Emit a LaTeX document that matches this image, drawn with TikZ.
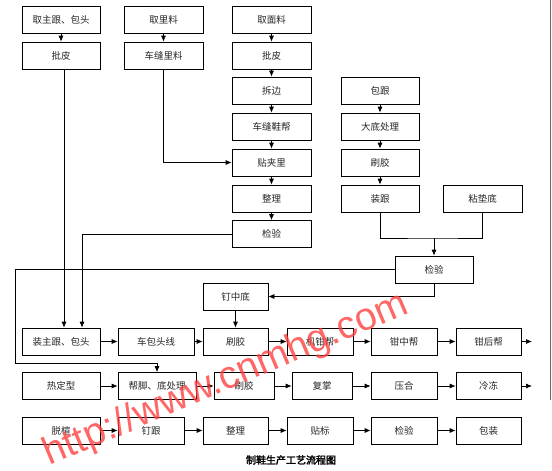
\documentclass[tikz,border=0pt]{standalone}
\usepackage{fontspec}
\setmainfont{Noto Sans CJK SC}[AutoFakeBold=2.5]
\newfontfamily\wmfont{Liberation Sans}
\usetikzlibrary{arrows.meta}
\begin{document}
\begin{tikzpicture}[x=1pt, y=-1pt,
		box/.style={draw, rectangle, minimum height=27pt, inner sep=0pt, font=\fontsize{9.5}{10}\selectfont, text=black!85},
		arr/.style={-{Latex[length=6pt,width=5pt]}},
		line width=0.7pt]
			\useasboundingbox (0,0) rectangle (552,471);
			\draw[black!60, line width=1pt] (550.5,0) -- (550.5,400);
			% upper part
			\node[box, minimum width=78pt] (qzg) at (61,19.5) {取主跟、包头};
			\node[box, minimum width=78pt] (pp1) at (61,55.5) {批皮};
			\node[box, minimum width=79pt] (qll) at (163.5,19.5) {取里料};
			\node[box, minimum width=79pt] (cfll) at (163.5,55.5) {车缝里料};
			\node[box, minimum width=79pt] (qml) at (271.5,19.5) {取面料};
			\node[box, minimum width=79pt] (pp2) at (271.5,55.5) {批皮};
			\node[box, minimum width=79pt] (cb) at (271.5,90.5) {拆边};
			\node[box, minimum width=79pt] (cfxb) at (271.5,126.5) {车缝鞋帮};
			\node[box, minimum width=79pt] (tjl) at (271.5,162.5) {贴夹里};
			\node[box, minimum width=79pt] (zl1) at (271.5,198.5) {整理};
			\node[box, minimum width=79pt] (jy1) at (271.5,234) {检验};
			\node[box, minimum width=78pt] (bg) at (380,90.5) {包跟};
			\node[box, minimum width=78pt] (ddcl) at (380,126.5) {大底处理};
			\node[box, minimum width=78pt] (sj1) at (380,162.5) {刷胶};
			\node[box, minimum width=78pt] (zg) at (380,198.5) {装跟};
			\node[box, minimum width=79pt] (ndd) at (482.5,198.5) {粘垫底};
			\node[box, minimum width=78pt] (jy2) at (434,269.5) {检验};
			\node[box, minimum width=65pt] (dzd) at (235.5,296.5) {钉中底};
			% row 1
			\node[box, minimum width=78pt] (zzg) at (61,341.5) {装主跟、包头};
			\node[box, minimum width=76pt] (cbtx) at (156,341.5) {车包头线};
			\node[box, minimum width=65pt] (sj2) at (235.5,341.5) {刷胶};
			\node[box, minimum width=66pt] (jqb) at (320,341.5) {机钳帮};
			\node[box, minimum width=66pt] (qzb) at (404,341.5) {钳中帮};
			\node[box, minimum width=65pt] (qhb) at (488.5,341.5) {钳后帮};
			% row 2
			\node[box, minimum width=78pt] (rdx) at (61,386) {热定型};
			\node[box, minimum width=78pt] (bjd) at (157,386) {帮脚、底处理};
			\node[box, minimum width=60pt] (sj3) at (244,386) {刷胶};
			\node[box, minimum width=60pt] (fz) at (322,386) {复掌};
			\node[box, minimum width=66pt] (yh) at (404,386) {压合};
			\node[box, minimum width=65pt] (ld) at (488.5,386) {冷冻};
			% row 3
			\node[box, minimum width=78pt] (tx) at (61,430.5) {脱楦};
			\node[box, minimum width=66pt] (dg) at (151,430.5) {钉跟};
			\node[box, minimum width=65pt] (zl2) at (235.5,430.5) {整理};
			\node[box, minimum width=66pt] (tb) at (320,430.5) {贴标};
			\node[box, minimum width=66pt] (jy3) at (404,430.5) {检验};
			\node[box, minimum width=65pt] (bz) at (488.5,430.5) {包装};
			\coordinate (join) at (434,238);
			\coordinate (loopL) at (15,363);
			\coordinate (endA) at (532,341.5);
			\coordinate (endB) at (532,386);
			% connectors
			\draw[arr] (qzg) -- (pp1);
			\draw[arr] (qll) -- (cfll);
			\draw[arr] (qml) -- (pp2);
			\draw[arr] (pp2) -- (cb);
			\draw[arr] (cb) -- (cfxb);
			\draw[arr] (cfxb) -- (tjl);
			\draw[arr] (tjl) -- (zl1);
			\draw[arr] (zl1) -- (jy1);
			\draw[arr] (cfll.south) |- (tjl.west);
			\draw[arr] (bg) -- (ddcl);
			\draw[arr] (ddcl) -- (sj1);
			\draw[arr] (sj1) -- (zg);
			\draw (zg.south) |- (join) -| (ndd.south);
			\draw[arr] (join) -- (jy2.north);
			\draw[arr] (jy2.south) |- (dzd.east);
			\draw[arr] (dzd) -- (sj2);
			\draw[arr] ([xshift=3pt]pp1.south) -- ([xshift=3pt]zzg.north);
			\draw[arr] (jy1.west) -| ([xshift=21pt]zzg.north);
			\draw[arr] (jy2.west) -| (loopL) -| (bjd.north);
			\draw[arr] (zzg) -- (cbtx);
			\draw[arr] (cbtx) -- (sj2);
			\draw[arr] (sj2) -- (jqb);
			\draw[arr] (jqb) -- (qzb);
			\draw[arr] (qzb) -- (qhb);
			\draw[arr] (qhb) -- (endA);
			\draw[arr] (rdx) -- (bjd);
			\draw[arr] (bjd) -- (sj3);
			\draw[arr] (sj3) -- (fz);
			\draw[arr] (fz) -- (yh);
			\draw[arr] (yh) -- (ld);
			\draw[arr] (ld) -- (endB);
			\draw[arr] (tx) -- (dg);
			\draw[arr] (dg) -- (zl2);
			\draw[arr] (zl2) -- (tb);
			\draw[arr] (tb) -- (jy3);
			\draw[arr] (jy3) -- (bz);
			\node[font=\bfseries\fontsize{10}{12}\selectfont] (title) at (291,460) {制鞋生产工艺流程图};
			\node[font=\wmfont\fontsize{39}{39}\selectfont, text=red!75, rotate=23, opacity=0.8] (wm) at (226,380) {http://www.cnmhg.com};
		\end{tikzpicture}
\end{document}
